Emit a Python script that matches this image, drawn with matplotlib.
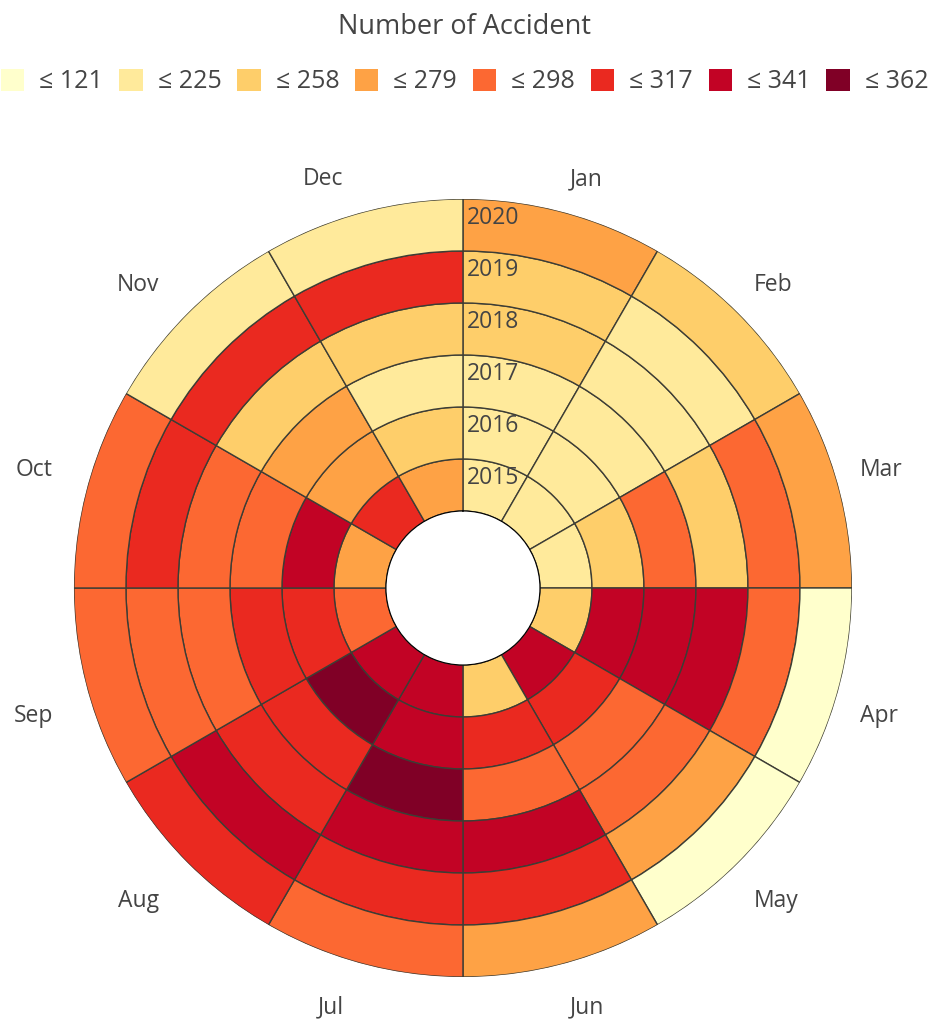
import matplotlib
matplotlib.use("Agg")
import matplotlib.pyplot as plt
import numpy as np
from matplotlib.colors import ListedColormap, BoundaryNorm
import matplotlib.patches as mpatches

plt.rcParams['font.family'] = ['Open Sans', 'DejaVu Sans']

months = ['Jan', 'Feb', 'Mar', 'Apr', 'May', 'Jun',
          'Jul', 'Aug', 'Sep', 'Oct', 'Nov', 'Dec']
years = [2015, 2016, 2017, 2018, 2019, 2020]

# monthly accident counts, one list per year (Jan..Dec)
acc_2015 = [214, 198, 221, 247, 329, 252, 336, 333, 291, 268, 309, 274]
acc_2016 = [219, 207, 240, 325, 311, 304, 338, 349, 306, 322, 263, 233]
acc_2017 = [223, 212, 287, 331, 284, 293, 362, 315, 313, 289, 271, 218]
acc_2018 = [238, 216, 251, 320, 295, 327, 341, 310, 286, 296, 246, 255]
acc_2019 = [244, 225, 282, 290, 276, 302, 317, 324, 283, 308, 314, 306]
acc_2020 = [273, 249, 265, 96, 121, 262, 294, 300, 281, 292, 209, 201]
accidents = [acc_2015, acc_2016, acc_2017, acc_2018, acc_2019, acc_2020]

# upper edges of the colour classes
class_edges = [121, 225, 258, 279, 298, 317, 341, 362]
class_labels = ['\u2264 %d' % e for e in class_edges]

cmap = ListedColormap(plt.cm.YlOrRd(np.linspace(0, 1, len(class_edges))))
norm = BoundaryNorm([0] + [e + 0.5 for e in class_edges], cmap.N)

fig = plt.figure(figsize=(9.35, 10.21), dpi=100)
ax = fig.add_axes([0.0791, 0.0431, 0.8321, 0.7620], projection='polar')
ax.set_theta_zero_location('N')
ax.set_theta_direction(-1)
ax.set_ylim(0, len(years))
ax.set_rorigin(-77 / 52)

theta = np.deg2rad(15 + 30 * np.arange(len(months)))
width = np.deg2rad(30)

for i, vals in enumerate(accidents):
    ax.bar(theta, 1, width=width, bottom=i, align='center',
           color=cmap(norm(vals)), edgecolor='#3d3d35', linewidth=1.0)

ax.grid(False)
ax.set_xticks([])
ax.set_yticks([])
ax.spines['polar'].set_visible(False)

text_col = '#444444'

# month labels sit just outside the outer ring, anchored away from the centre
pad = 22
for t, m in zip(theta, months):
    s, c = np.sin(t), np.cos(t)
    dx = pad * s - (13 if s < 0 else 0)
    dy = pad * c - (10 if c < 0 else 0)
    ax.annotate(m, xy=(t, len(years)), xytext=(dx, dy), textcoords='offset pixels',
                ha='left' if s > 0 else 'right', va='bottom' if c > 0 else 'top',
                fontsize=16.5, color=text_col, annotation_clip=False)

for i, y in enumerate(years):
    ax.annotate(str(y), xy=(0, i + 0.5), xytext=(3, 1), textcoords='offset points',
                ha='left', va='baseline', fontsize=16.5, color=text_col)

fig.text(0.497, 0.974, 'Number of Accident', ha='center', va='center',
         fontsize=19.5, color=text_col)

handles = [mpatches.Patch(facecolor=cmap(k), edgecolor='none', label=lab)
           for k, lab in enumerate(class_labels)]
leg = fig.legend(handles=handles, loc='center', bbox_to_anchor=(0.497, 0.920),
                 ncol=len(handles), frameon=False, fontsize=18, borderpad=0,
                 handlelength=0.95, handleheight=0.95, handletextpad=0.6,
                 columnspacing=0.62, labelcolor=text_col)

fig.savefig('out.png', dpi=100)
